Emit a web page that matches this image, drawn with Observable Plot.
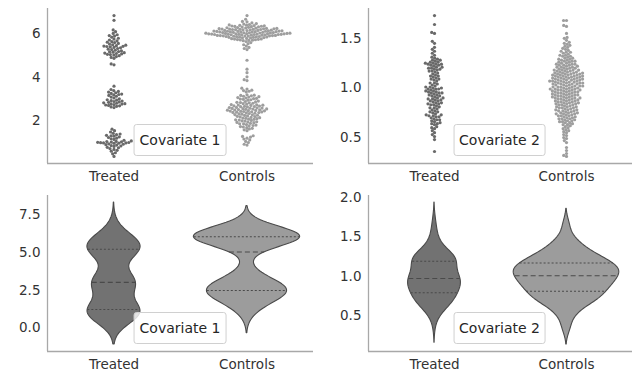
<!DOCTYPE html>
<html>
<head>
<meta charset="utf-8">
<script src="https://cdn.jsdelivr.net/npm/d3@7"></script>
<script src="https://cdn.jsdelivr.net/npm/@observablehq/plot@0.6"></script>
<style>
  html, body { margin: 0; padding: 0; background: #fff; }
  #root { position: relative; width: 637px; height: 372px; overflow: hidden; font-family: "DejaVu Sans", sans-serif; }
  .panel { position: absolute; }
  .panel svg { overflow: visible; display: block; }
  .legend { position: absolute; transform: translateX(-50%); border: 1px solid #d0d0d0; border-radius: 3px;
            background: rgba(255,255,255,0.8); padding: 0 5px; height: 30px; line-height: 30px;
            font-size: 14px; color: #262626; white-space: nowrap; }
</style>
</head>
<body>
<div id="root"></div>
<script>
// ---------------- data ----------------
const groups = ["Treated", "Controls"];
const legendLabels = ["Covariate 1", "Covariate 2"];

const treatedCov1 = [
  0.38, 0.50, 0.55, 0.62, 0.66, 0.70, 0.74, 0.78, 0.80, 0.84,
  0.86, 0.88, 0.90, 0.92, 0.94, 0.96, 0.98, 0.99,
  1.00, 1.00, 1.01, 1.02, 1.03, 1.04, 1.05, 1.06, 1.07, 1.09,
  1.12, 1.16, 1.19,
  1.22, 1.25, 1.28, 1.31, 1.33, 1.35, 1.38, 1.41, 1.44, 1.50, 1.56, 1.63,
  2.62, 2.65, 2.68, 2.70, 2.72, 2.74, 2.76, 2.78, 2.79, 2.80, 2.82, 2.84, 2.86, 2.88, 2.90, 2.92, 2.94, 2.96, 2.98,
  3.02, 3.06, 3.10, 3.14, 3.18, 3.20, 3.22, 3.24, 3.27, 3.30, 3.33, 3.36, 3.40, 3.45, 3.60,
  4.58, 4.62, 4.88, 4.92, 4.96, 5.00, 5.03, 5.05, 5.06, 5.08, 5.10, 5.12, 5.14, 5.16, 5.18, 5.19,
  5.22, 5.25, 5.28, 5.30, 5.33, 5.36, 5.38, 5.40, 5.42, 5.43, 5.44, 5.46, 5.48, 5.50, 5.53, 5.56,
  5.60, 5.62, 5.64, 5.68, 5.72, 5.76, 5.80, 5.85, 5.90, 5.92, 5.96, 6.02, 6.10, 6.18, 6.62, 6.84
];

const controlsCov1 = [
  0.90, 0.94, 1.02, 1.07, 1.14, 1.18, 1.22, 1.27, 1.30, 1.33,
  1.56, 1.60, 1.64, 1.67, 1.70,
  1.73, 1.75, 1.78, 1.80, 1.82, 1.84,
  1.87, 1.88, 1.90, 1.93, 1.94, 1.96, 1.97,
  2.00, 2.01, 2.03, 2.05, 2.06, 2.08, 2.09, 2.11,
  2.13, 2.14, 2.16, 2.17, 2.19, 2.21, 2.22, 2.24,
  2.26, 2.27, 2.29, 2.30, 2.32, 2.33, 2.35, 2.36, 2.38,
  2.39, 2.40, 2.41, 2.42, 2.43, 2.44, 2.45, 2.46, 2.47, 2.48, 2.49, 2.50, 2.51,
  2.52, 2.53, 2.54, 2.55, 2.56, 2.57, 2.58, 2.59, 2.60, 2.61, 2.62, 2.63, 2.65,
  2.66, 2.67, 2.68, 2.69, 2.70, 2.72, 2.73, 2.74, 2.75, 2.76, 2.78,
  2.80, 2.82, 2.84, 2.85, 2.86, 2.88, 2.90, 2.92,
  2.96, 2.98, 3.00, 3.01, 3.03, 3.04, 3.06, 3.08,
  3.10, 3.12, 3.14, 3.16, 3.18, 3.19, 3.21,
  3.34, 3.37, 3.40, 3.42, 3.47, 3.51,
  3.86, 3.90, 4.03, 4.22, 4.38, 4.79,
  5.28, 5.33, 5.38, 5.44, 5.50, 5.55, 5.60, 5.65,
  5.69, 5.70, 5.71, 5.72, 5.73, 5.74, 5.75, 5.76, 5.77, 5.78, 5.79, 5.81,
  5.82, 5.83, 5.84, 5.84, 5.85, 5.86, 5.86, 5.87, 5.88, 5.88, 5.89, 5.90, 5.90, 5.91, 5.91, 5.92, 5.92, 5.93, 5.93, 5.94, 5.94, 5.95,
  5.96, 5.96, 5.97, 5.97, 5.97, 5.98, 5.98, 5.98, 5.99, 5.99, 6.00, 6.00, 6.00, 6.01, 6.01, 6.02, 6.02, 6.03, 6.03,
  6.04, 6.04, 6.05, 6.05, 6.06, 6.06, 6.07, 6.07, 6.08, 6.08, 6.09, 6.09, 6.10, 6.10, 6.11, 6.11, 6.12, 6.12, 6.13,
  6.13, 6.14, 6.14, 6.15, 6.16, 6.16, 6.17, 6.18, 6.18, 6.19, 6.20, 6.20, 6.21, 6.21, 6.22, 6.22, 6.23, 6.23, 6.24, 6.25, 6.25, 6.26, 6.27,
  6.28, 6.29, 6.30, 6.31, 6.32, 6.33, 6.34, 6.35, 6.36, 6.37, 6.38, 6.39, 6.40, 6.41, 6.43, 6.45,
  6.47, 6.50, 6.55, 6.57, 6.67, 6.84
];

const treatedCov2 = [
  0.36, 0.48, 0.51, 0.53, 0.55, 0.57,
  0.59, 0.60, 0.61,
  0.63, 0.64, 0.64, 0.65,
  0.66, 0.67, 0.68, 0.68, 0.69,
  0.70, 0.71, 0.71, 0.72, 0.72, 0.73, 0.73,
  0.74, 0.75, 0.76, 0.76, 0.77,
  0.78, 0.79, 0.80, 0.80, 0.81,
  0.82, 0.83, 0.83, 0.84, 0.84, 0.85, 0.85,
  0.86, 0.87, 0.87, 0.88, 0.88, 0.89, 0.89, 0.90,
  0.90, 0.91, 0.92, 0.92, 0.93, 0.93,
  0.94, 0.95, 0.95, 0.95, 0.96, 0.96, 0.97, 0.97,
  0.98, 0.99, 0.99, 0.99, 1.00, 1.00, 1.01, 1.01, 1.02,
  1.03, 1.04, 1.05, 1.05,
  1.07, 1.08, 1.09, 1.09,
  1.10, 1.11, 1.12, 1.12, 1.13,
  1.14, 1.15, 1.16, 1.17, 1.17,
  1.18, 1.19, 1.19, 1.20, 1.20, 1.21, 1.21,
  1.22, 1.23, 1.23, 1.24, 1.24, 1.24, 1.25, 1.25, 1.26, 1.26,
  1.27, 1.28, 1.28, 1.29, 1.30,
  1.31, 1.33, 1.35, 1.37, 1.39, 1.41, 1.45, 1.47, 1.55, 1.56, 1.64, 1.73
];

const controlsCov2 = [
  0.31, 0.32, 0.34, 0.37, 0.40, 0.45,
  0.47, 0.49, 0.50, 0.52, 0.53, 0.55,
  0.56, 0.57, 0.58, 0.59, 0.60, 0.61,
  0.62, 0.63, 0.63, 0.64,
  0.65, 0.65, 0.66, 0.66, 0.67, 0.67,
  0.68, 0.68, 0.69, 0.69, 0.69, 0.70, 0.70,
  0.71, 0.71, 0.72, 0.72, 0.72, 0.73, 0.73,
  0.74, 0.74, 0.74, 0.75, 0.75, 0.75, 0.76, 0.76,
  0.77, 0.77, 0.77, 0.78, 0.78, 0.78, 0.79, 0.79,
  0.80, 0.80, 0.80, 0.81, 0.81, 0.81, 0.82, 0.82,
  0.83, 0.83, 0.83, 0.84, 0.84, 0.84, 0.85, 0.85, 0.85,
  0.86, 0.86, 0.86, 0.87, 0.87, 0.87, 0.88, 0.88, 0.88,
  0.89, 0.89, 0.89, 0.90, 0.90, 0.90, 0.90, 0.91, 0.91, 0.91,
  0.92, 0.92, 0.92, 0.93, 0.93, 0.93, 0.93, 0.94, 0.94, 0.94,
  0.95, 0.95, 0.95, 0.96, 0.96, 0.96, 0.96, 0.97, 0.97, 0.97,
  0.98, 0.98, 0.98, 0.98, 0.99, 0.99, 0.99, 0.99, 1.00, 1.00, 1.00,
  1.01, 1.01, 1.01, 1.01, 1.02, 1.02, 1.02, 1.02, 1.03, 1.03, 1.03,
  1.04, 1.04, 1.04, 1.04, 1.05, 1.05, 1.05, 1.05, 1.06, 1.06, 1.06, 1.06,
  1.07, 1.07, 1.07, 1.07, 1.08, 1.08, 1.08, 1.08, 1.09, 1.09, 1.09, 1.09,
  1.10, 1.10, 1.10, 1.10, 1.11, 1.11, 1.11, 1.11, 1.12, 1.12, 1.12, 1.12,
  1.13, 1.13, 1.13, 1.13, 1.14, 1.14, 1.14, 1.14, 1.15, 1.15, 1.15, 1.15,
  1.16, 1.16, 1.16, 1.17, 1.17, 1.17, 1.18, 1.18, 1.18, 1.18,
  1.19, 1.19, 1.20, 1.20, 1.20, 1.21, 1.21, 1.21,
  1.22, 1.22, 1.23, 1.23, 1.23, 1.24, 1.24, 1.24,
  1.25, 1.25, 1.26, 1.26, 1.27, 1.27, 1.27,
  1.28, 1.28, 1.29, 1.29, 1.30, 1.30,
  1.31, 1.32, 1.32, 1.33, 1.33,
  1.34, 1.35, 1.36, 1.36,
  1.37, 1.38, 1.39, 1.40, 1.41, 1.42,
  1.43, 1.44, 1.45, 1.46, 1.48, 1.50, 1.51, 1.55,
  1.62, 1.63, 1.68, 1.68
];

const swarmTicks = [[2, 4, 6], [0.5, 1.0, 1.5]];
const violinTicks = [[0.0, 2.5, 5.0, 7.5], [0.5, 1.0, 1.5, 2.0]];
const swarmTickFormats = ["d", ".1f"];

// ---------------- style ----------------
const dotColors = ["#696969", "#9e9e9e"];
const violinColors = ["#727272", "#9c9c9c"];
const edgeColor = "#4a4a4a";
const spineColor = "#a8a8a8";
const fontCss = "DejaVu Sans, sans-serif";
const dotR = 1.6;
const dotPad = -0.25;

const layout = [
  {left: 0,   top: 0,   width: 318, height: 186, mL: 47, mR: 5, mT: 8, mB: 23},
  {left: 318, top: 0,   width: 319, height: 186, mL: 49, mR: 5, mT: 8, mB: 23},
  {left: 0,   top: 186, width: 318, height: 186, mL: 47, mR: 5, mT: 9, mB: 21},
  {left: 318, top: 186, width: 319, height: 186, mL: 49, mR: 5, mT: 9, mB: 21}
];

const root = document.getElementById("root");

function padDomain(lo, hi) {
  const p = (hi - lo) * 0.05;
  return [lo - p, hi + p];
}

function spines(y0) {
  return [
    Plot.ruleY(groups.map(g => ({g})), {fx: "g", y: () => y0, stroke: spineColor, strokeWidth: 1.3}),
    Plot.ruleX([{g: groups[0]}], {fx: "g", x: () => -0.5, stroke: spineColor, strokeWidth: 1.3})
  ];
}

function baseOptions(L, yDomain, ticks, fmt) {
  return {
    width: L.width, height: L.height,
    marginLeft: L.mL, marginRight: L.mR, marginTop: L.mT, marginBottom: L.mB,
    style: {fontFamily: fontCss, fontSize: "13.5px", color: "#333", background: "transparent"},
    fx: {domain: groups, padding: 0, axis: "bottom", label: null, tickSize: 0, tickPadding: 8},
    x: {domain: [-0.5, 0.5], axis: null},
    y: {domain: yDomain, ticks, tickFormat: d3.format(fmt), tickSize: 0, tickPadding: 7, label: null},
    color: {domain: groups}
  };
}

function addPanel(L, svg, label) {
  const div = document.createElement("div");
  div.className = "panel";
  Object.assign(div.style, {left: L.left + "px", top: L.top + "px", width: L.width + "px", height: L.height + "px"});
  div.appendChild(svg);
  const lg = document.createElement("div");
  lg.className = "legend";
  lg.textContent = label;
  lg.style.left = (L.mL + (L.width - L.mL - L.mR) / 2) + "px";
  lg.style.bottom = (L.mB + 7) + "px";
  div.appendChild(lg);
  root.appendChild(div);
}

// ---------------- swarm panels ----------------
function swarmPanel(L, tVals, cVals, ticks, fmt, label) {
  const data = [];
  [...tVals].sort(d3.ascending).forEach(v => data.push({g: groups[0], v}));
  [...cVals].sort(d3.ascending).forEach(v => data.push({g: groups[1], v}));
  const ext = d3.extent(data, d => d.v);
  const opts = baseOptions(L, padDomain(ext[0], ext[1]), ticks, fmt);
  opts.color = {domain: groups, range: dotColors};
  opts.marks = [
    ...spines(opts.y.domain[0]),
    Plot.dot(data, Plot.dodgeX({anchor: "middle", padding: dotPad}, {fx: "g", y: "v", r: dotR, fill: "g", stroke: "none"}))
  ];
  addPanel(L, Plot.plot(opts), label);
}

// ---------------- violin panels ----------------
function kde(values) {
  const n = values.length;
  const bw = d3.deviation(values) * Math.pow(n, -0.2);
  const lo = d3.min(values) - 2 * bw, hi = d3.max(values) + 2 * bw;
  const grid = d3.range(100).map(i => lo + (hi - lo) * i / 99);
  const norm = n * bw * Math.sqrt(2 * Math.PI);
  const dens = grid.map(y => d3.sum(values, v => Math.exp(-0.5 * ((y - v) / bw) ** 2)) / norm);
  return {grid, dens, n};
}

function violinPanel(L, tVals, cVals, ticks, label) {
  const sets = [tVals, cVals];
  const kdes = sets.map(kde);
  const nMax = d3.max(kdes, k => k.n);
  const rows = [], quarts = [];
  kdes.forEach((k, gi) => {
    const g = groups[gi];
    const scale = 0.4 * (k.n / nMax) / d3.max(k.dens);
    k.grid.forEach((y, i) => rows.push({g, y, w: k.dens[i] * scale}));
    const sorted = [...sets[gi]].sort(d3.ascending);
    [0.25, 0.5, 0.75].forEach(p => {
      const q = d3.quantile(sorted, p);
      const idx = d3.minIndex(k.grid, y => Math.abs(y - q));
      quarts.push({g, y: q, w: k.dens[idx] * scale * 0.99, median: p === 0.5});
    });
  });
  const lo = d3.min(kdes, k => k.grid[0]), hi = d3.max(kdes, k => k.grid[k.grid.length - 1]);
  const opts = baseOptions(L, padDomain(lo, hi), ticks, ".1f");
  opts.color = {domain: groups, range: violinColors};
  opts.marks = [
    ...spines(opts.y.domain[0]),
    Plot.areaX(rows, {fx: "g", y: "y", x1: d => -d.w, x2: d => d.w, fill: "g", stroke: edgeColor, strokeWidth: 1.1, curve: "linear"}),
    Plot.ruleY(quarts.filter(d => !d.median), {fx: "g", y: "y", x1: d => -d.w, x2: d => d.w, stroke: edgeColor, strokeWidth: 1.1, strokeDasharray: "2,2"}),
    Plot.ruleY(quarts.filter(d => d.median), {fx: "g", y: "y", x1: d => -d.w, x2: d => d.w, stroke: edgeColor, strokeWidth: 1.1, strokeDasharray: "5,3"})
  ];
  addPanel(L, Plot.plot(opts), label);
}

swarmPanel(layout[0], treatedCov1, controlsCov1, swarmTicks[0], swarmTickFormats[0], legendLabels[0]);
swarmPanel(layout[1], treatedCov2, controlsCov2, swarmTicks[1], swarmTickFormats[1], legendLabels[1]);
violinPanel(layout[2], treatedCov1, controlsCov1, violinTicks[0], legendLabels[0]);
violinPanel(layout[3], treatedCov2, controlsCov2, violinTicks[1], legendLabels[1]);
</script>
</body>
</html>
